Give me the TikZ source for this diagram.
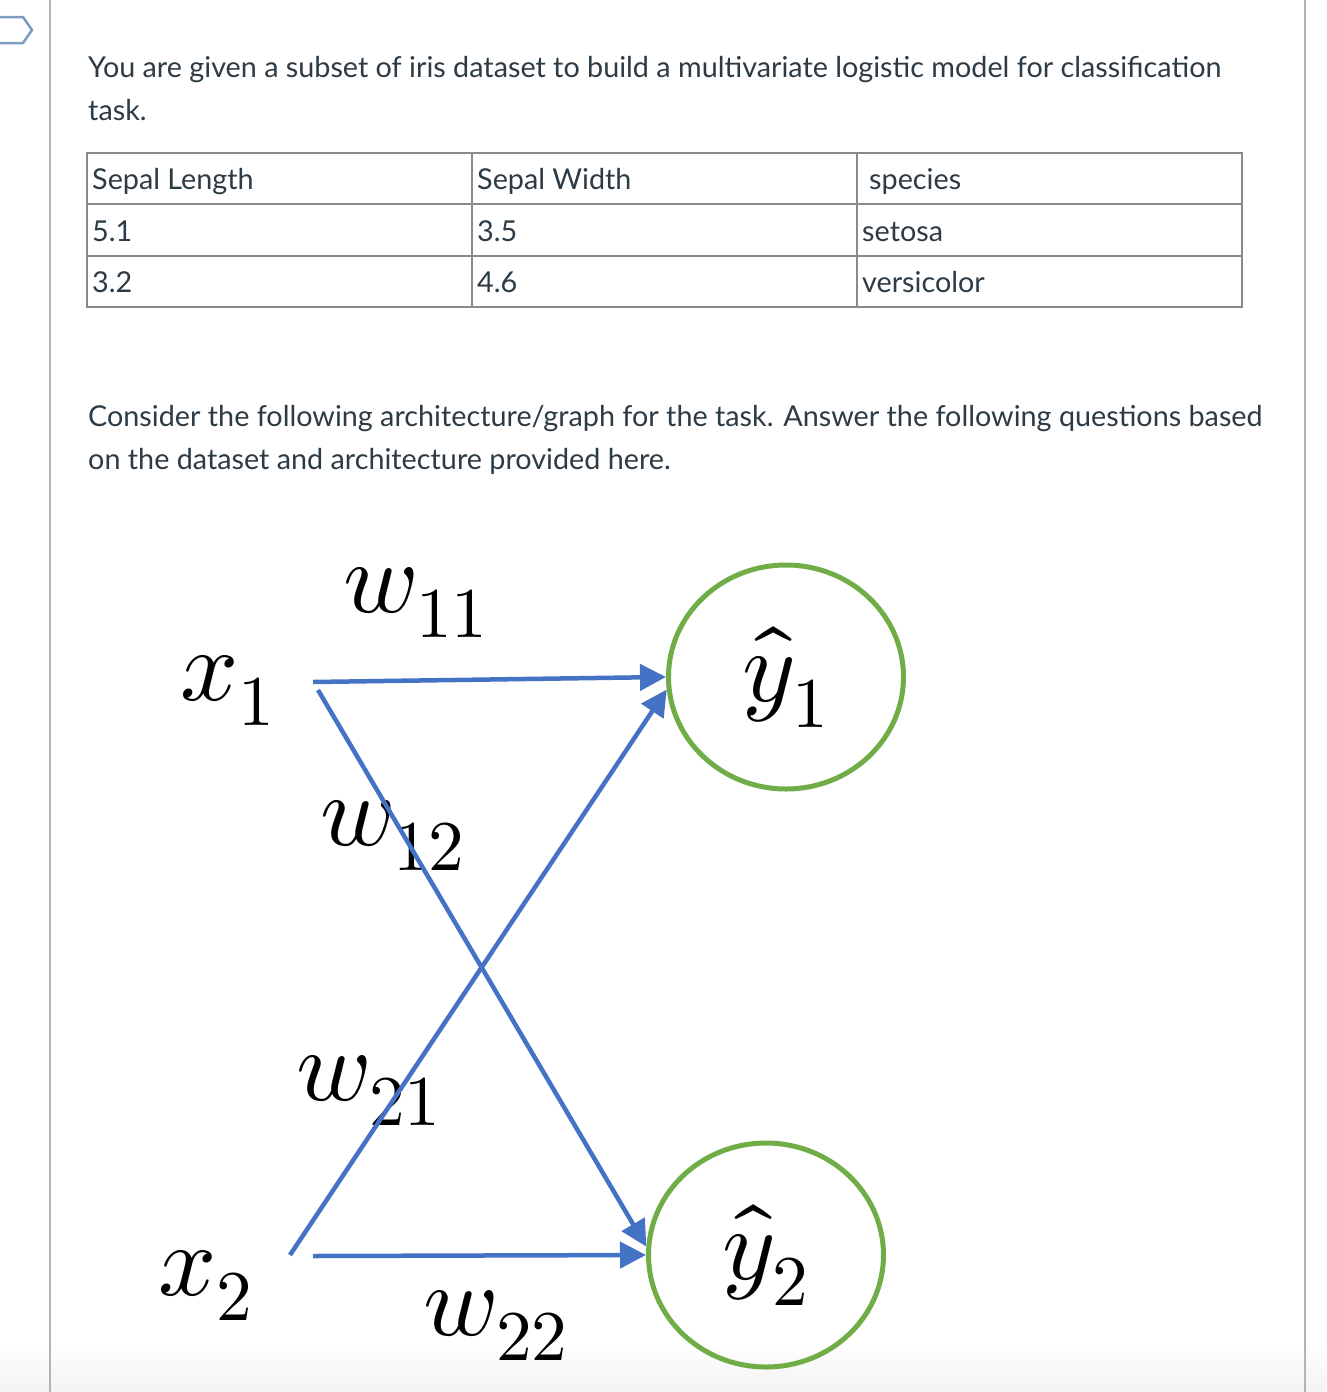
\documentclass[tikz,border=0pt]{standalone}
\usepackage{fontspec}
\usepackage{unicode-math}
\setmainfont{Lato}
\setmathfont{Latin Modern Math}
\usetikzlibrary{arrows.meta,shapes.geometric}
\definecolor{txt}{HTML}{2D3B45}
\definecolor{edge}{HTML}{4472C4}
\definecolor{ring}{HTML}{70AD47}
\definecolor{tblrule}{HTML}{8A8A8A}
\definecolor{sideline}{HTML}{B4B4B4}
\definecolor{icon}{HTML}{7C9CC0}
\begin{document}
\begin{tikzpicture}[x=1pt,y=-1pt,
  body/.style={anchor=base west, inner sep=0pt, text=txt, font=\fontsize{28.75}{34}\selectfont},
  lbl/.style={anchor=base west, inner sep=0pt, font=\fontsize{102}{120}\selectfont},
  outnode/.style={ellipse, draw=ring, line width=5pt, minimum width=235pt, minimum height=224pt, inner sep=0pt, font=\fontsize{102}{120}\selectfont},
  wire/.style={draw=edge, line width=4.5pt, -{Triangle[length=26pt,width=26pt]}},
  tline/.style={draw=tblrule, line width=1.4pt}
]
\useasboundingbox (0,0) rectangle (1326,1392);
\fill[white] (0,0) rectangle (1326,1392);
\shade[top color=white, bottom color=black!5] (0,1345) rectangle (1326,1392);

% page frame lines
\draw[sideline, line width=1.5pt] (50,0) -- (50,1392);
\draw[sideline, line width=1.5pt] (1305,0) -- (1305,1392);

% tag icon
\draw[icon, line width=2.5pt, line join=round] (-2,17) -- (23,17) -- (32,30) -- (23,43) -- (-2,43);

% intro text
\node[body] (intro1) at (88,77) {You are given a subset of iris dataset to build a multivariate logistic model for classification};
\node[body] (intro2) at (88,120) {task.};

% table
\draw[tline] (87,153) rectangle (1242,307);
\draw[tline] (87,204) -- (1242,204);
\draw[tline] (87,256) -- (1242,256);
\draw[tline] (472,153) -- (472,307);
\draw[tline] (857,153) -- (857,307);
\node[body] (h1) at (92,189) {Sepal Length};
\node[body] (h2) at (477,189) {Sepal Width};
\node[body] (h3) at (869,189) {species};
\node[body] (c11) at (92,241) {5.1};
\node[body] (c12) at (477,241) {3.5};
\node[body] (c13) at (862,241) {setosa};
\node[body] (c21) at (92,292) {3.2};
\node[body] (c22) at (477,292) {4.6};
\node[body] (c23) at (862,292) {versicolor};

% second paragraph
\node[body] (para1) at (88,426) {Consider the following architecture/graph for the task. Answer the following questions based};
\node[body] (para2) at (88,469) {on the dataset and architecture provided here.};

% network
\node[outnode] (y1) at (786,677) {$\hat{y}_1$};
\node[outnode] (y2) at (766,1255) {$\hat{y}_2$};

\node[lbl] (x1) at (180,700) {$x_1$};
\node[lbl] (x2) at (158,1295) {$x_2$};
\node[lbl] (w11) at (343,612) {$w_{11}$};
\node[lbl] (w12) at (320,845) {$w_{12}$};
\node[lbl] (w21) at (296,1100) {$w_{21}$};
\node[lbl] (w22) at (423,1335) {$w_{22}$};

\coordinate (s11) at (313,682);
\coordinate (s12) at (318,690);
\coordinate (s21) at (290,1255);
\coordinate (s22) at (313,1256);

\draw[wire] (s11) -- (y1.west);
\draw[wire] (s12) -- (y2.176);
\draw[wire] (s21) -- (y1.186);
\draw[wire] (s22) -- (y2.west);
\end{tikzpicture}
\end{document}
